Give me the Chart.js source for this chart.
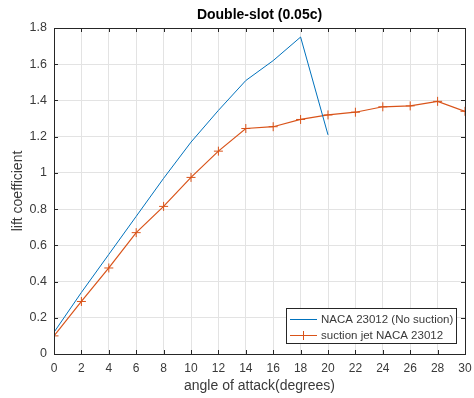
<!DOCTYPE html>
<html><head><meta charset="utf-8">
<script src="https://cdn.jsdelivr.net/npm/chart.js@4/dist/chart.umd.min.js"></script>
<style>html,body{margin:0;padding:0;background:#fff}#wrap{width:474px;height:398px}</style>
</head><body><div id="wrap"><canvas id="c" width="474" height="398"></canvas></div>
<script>
const angles = [0,2,4,6,8,10,12,14,16,18,20,22,24,26,28,30];
const noSuctionAngles = [0,2,4,6,8,10,12,14,16,18,20];
const noSuction = [0.12,0.34,0.55,0.76,0.97,1.17,1.345,1.51,1.62,1.75,1.21];
const suctionJet = [0.10,0.29,0.475,0.67,0.815,0.975,1.12,1.245,1.255,1.295,1.32,1.335,1.365,1.37,1.395,1.34];
const xTicks = [0,2,4,6,8,10,12,14,16,18,20,22,24,26,28,30];
const yTicks = [0,0.2,0.4,0.6,0.8,1,1.2,1.4,1.6,1.8];
const seriesNames = ['NACA 23012 (No suction)','suction jet NACA 23012'];
const titleText = 'Double-slot (0.05c)';
const xTitle = 'angle of attack(degrees)';
const yTitle = 'lift coefficient';

const AX = '#262626', TXT = '#3a3a3a', GRID = '#e3e3e3', BLUE = '#0072BD', RED = '#D95319';
const FONT = '"Liberation Sans", Arial, sans-serif';

const deco = {
  id:'deco',
  afterDraw(chart){
    const ctx = chart.ctx, a = chart.chartArea, xs = chart.scales.x, ys = chart.scales.y;
    ctx.save();
    ctx.strokeStyle = AX; ctx.lineWidth = 1;
    ctx.beginPath();
    xTicks.forEach(v=>{const p=Math.round(xs.getPixelForValue(v))+0.5;
      ctx.moveTo(p,a.bottom);ctx.lineTo(p,a.bottom-4);ctx.moveTo(p,a.top);ctx.lineTo(p,a.top+4);});
    yTicks.forEach(v=>{const p=Math.round(ys.getPixelForValue(v))+0.5;
      ctx.moveTo(a.left,p);ctx.lineTo(a.left+4,p);ctx.moveTo(a.right,p);ctx.lineTo(a.right-4,p);});
    ctx.stroke();
    ctx.strokeRect(Math.round(a.left)+0.5,Math.round(a.top)+0.5,Math.round(a.right-a.left),Math.round(a.bottom-a.top));
    // titles
    ctx.fillStyle = '#000';
    ctx.font = 'bold 14px '+FONT; ctx.textAlign='center'; ctx.textBaseline='middle';
    ctx.fillText(titleText,(a.left+a.right)/2,15);
    ctx.fillStyle = TXT;
    ctx.font = '14px '+FONT;
    ctx.fillText(xTitle,(a.left+a.right)/2,386);
    ctx.save(); ctx.translate(18,(a.top+a.bottom)/2); ctx.rotate(-Math.PI/2);
    ctx.fillText(yTitle,0,0); ctx.restore();
    // legend
    const lx=286, ly=308, lw=170, lh=35;
    ctx.fillStyle='#fff'; ctx.fillRect(lx,ly,lw,lh);
    ctx.strokeStyle=AX; ctx.strokeRect(lx+0.5,ly+0.5,lw,lh);
    ctx.font='11.5px '+FONT; ctx.textAlign='left'; ctx.textBaseline='middle';
    const rows=[[BLUE,false],[RED,true]];
    rows.forEach((r,i)=>{
      const yy = ly+11.5+i*16;
      ctx.strokeStyle=r[0]; ctx.lineWidth=1;
      ctx.beginPath(); ctx.moveTo(lx+4,yy); ctx.lineTo(lx+31,yy); ctx.stroke();
      if(r[1]){ctx.beginPath();ctx.moveTo(lx+17.5,yy-4.5);ctx.lineTo(lx+17.5,yy+4.5);ctx.moveTo(lx+13,yy);ctx.lineTo(lx+22,yy);ctx.stroke();}
      ctx.fillStyle=TXT; ctx.fillText(seriesNames[i],lx+35,yy+0.5);
    });
    ctx.restore();
  }
};

new Chart(document.getElementById('c'),{
  type:'line',
  data:{datasets:[
    {label:seriesNames[0],data:noSuctionAngles.map((x,i)=>({x,y:noSuction[i]})),borderColor:BLUE,borderWidth:1,pointRadius:0,tension:0,fill:false},
    {label:seriesNames[1],data:angles.map((x,i)=>({x,y:suctionJet[i]})),borderColor:RED,borderWidth:1.2,pointStyle:'cross',pointRadius:4.5,pointBorderWidth:1,pointBorderColor:RED,tension:0,fill:false}
  ]},
  options:{
    responsive:false,animation:false,
    layout:{padding:{top:28,right:9,left:0,bottom:0}},
    plugins:{legend:{display:false},title:{display:false},tooltip:{enabled:false}},
    scales:{
      x:{type:'linear',min:0,max:30,
        afterBuildTicks(s){s.ticks=xTicks.map(v=>({value:v}));},
        afterFit(s){s.height=44;s.paddingLeft=0;s.paddingRight=0;},
        grid:{color:GRID,drawTicks:false},border:{display:false},
        ticks:{color:TXT,font:{family:FONT,size:12},padding:7,maxRotation:0,autoSkip:false,callback:v=>String(v)}},
      y:{type:'linear',min:0,max:1.8,
        afterBuildTicks(s){s.ticks=yTicks.map(v=>({value:v}));},
        afterFit(s){s.width=54;s.paddingTop=0;s.paddingBottom=0;},
        grid:{color:GRID,drawTicks:false},border:{display:false},
        ticks:{color:TXT,font:{family:FONT,size:12.5},padding:7,callback:v=>String(Math.round(v*10)/10)}}
    }
  },
  plugins:[deco]
});
</script></body></html>
